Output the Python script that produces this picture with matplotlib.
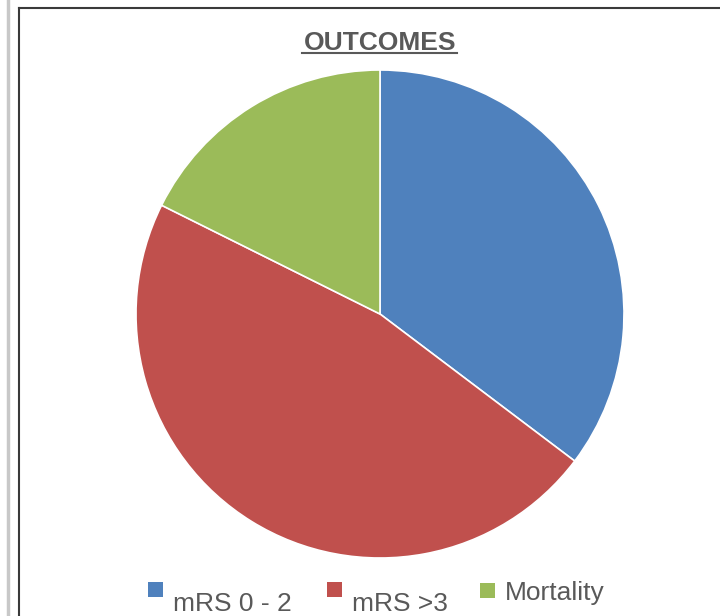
import matplotlib
matplotlib.use("Agg")
import matplotlib.pyplot as plt
from matplotlib.lines import Line2D
from matplotlib.patches import Rectangle

plt.rcParams['font.family'] = ['Liberation Sans Narrow', 'Liberation Sans', 'DejaVu Sans']

labels = ['mRS 0 - 2', 'mRS >3', 'Mortality']
counts = [6, 8, 3]
colors = ['#4F81BD', '#C0504D', '#9BBB59']
title = 'OUTCOMES'

W, H = 720, 616
fig = plt.figure(figsize=(W / 100, H / 100), dpi=100)
fig.patch.set_facecolor('white')

# frame lines like the screenshot
fig.add_artist(Line2D([7.5 / W, 7.5 / W], [0, 1], color='#c8c8c8', lw=2.5))
fig.add_artist(Line2D([18.5 / W, 18.5 / W], [0, 1 - 7.5 / H], color='#3a3a3a', lw=1.5))
fig.add_artist(Line2D([18.5 / W, 1], [1 - 7.5 / H, 1 - 7.5 / H], color='#3a3a3a', lw=1.5))

# pie
cx, cy, r = 380, 314, 244
ax = fig.add_axes([(cx - r) / W, (H - cy - r) / H, 2 * r / W, 2 * r / H])
ax.pie(counts, colors=colors, startangle=90, counterclock=False, radius=1,
       wedgeprops=dict(edgecolor='white', linewidth=1.2))
ax.set_xlim(-1, 1)
ax.set_ylim(-1, 1)
ax.set_aspect('equal')
ax.axis('off')

# title with underline
t = fig.text(380 / W, 1 - 50 / H, title, ha='center', va='baseline',
             fontsize=19, fontweight='bold', color='#595959')
fig.add_artist(Line2D([302 / W, 457 / W], [1 - 53 / H, 1 - 53 / H], color='#595959', lw=1.5))

# legend drawn by hand (staggered as in the original)
items = [(148, 582, 173, 611), (327, 582, 352, 611), (480, 583, 505, 600)]
for (sx, sy, tx, ty), lab, col in zip(items, labels, colors):
    fig.add_artist(Rectangle((sx / W, 1 - (sy + 15) / H), 15 / W, 15 / H,
                             facecolor=col, edgecolor='none'))
    fig.text(tx / W, 1 - ty / H, lab, ha='left', va='baseline',
             fontsize=19, color='#595959')

fig.savefig('out.png', dpi=100)
